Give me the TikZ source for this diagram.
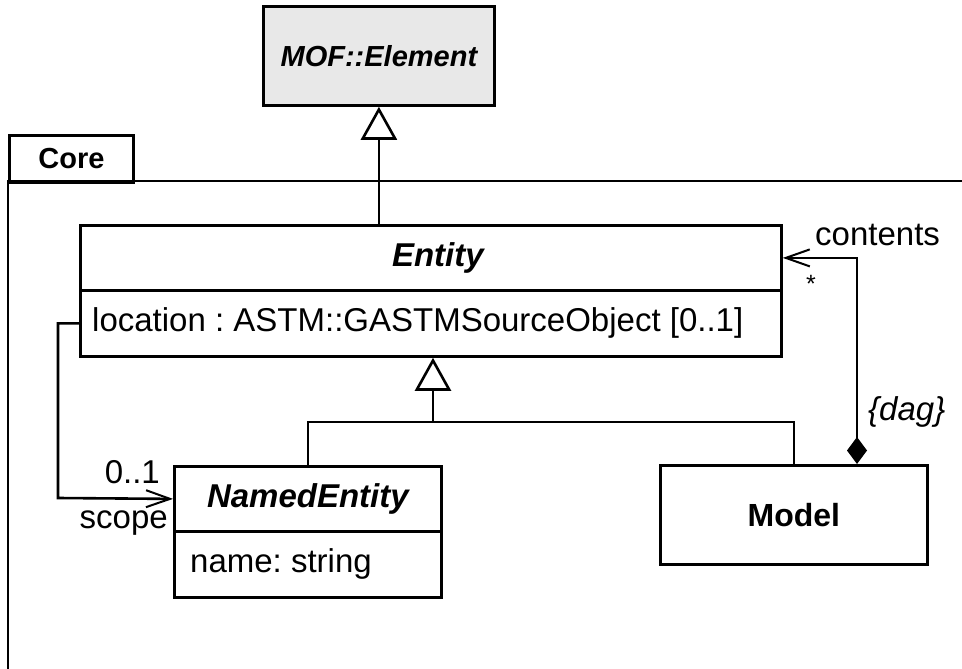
\documentclass[tikz,border=0pt]{standalone}
\usepackage{fontspec}
\setmainfont{Liberation Sans}
\usetikzlibrary{arrows.meta}
\frenchspacing
\newcommand\clsf{\fontsize{33}{40}\selectfont\bfseries\itshape}
\newcommand\txtf{\fontsize{33}{40}\selectfont}
\tikzset{
  cls/.style={draw, line width=2.8pt, inner sep=0pt, anchor=north west, font=\clsf},
  attrtext/.style={inner sep=0pt, anchor=west, font=\txtf},
  lbl/.style={inner sep=0pt, font=\txtf},
  conn/.style={line width=2.6pt},
  gen/.style={conn, -{Triangle[open, length=33pt, width=36pt, line width=2.6pt]}},
  nav/.style={conn, -{Straight Barb[length=24pt, width=17pt, line width=2pt]}},
  comp/.style={conn, {Diamond[length=27pt, width=20pt]}-{Straight Barb[length=24pt, width=17pt, line width=2pt]}},
}
\begin{document}
\frenchspacing
\begin{tikzpicture}[x=1pt, y=-1pt]
\useasboundingbox (0,0) rectangle (962,669);
% package
\draw[line width=2.8pt] (8,690) -- (8,181) -- (975,181);
\node[cls, font=\fontsize{29}{34}\selectfont\bfseries, minimum width=124pt, minimum height=47pt] (coretab) at (8,134) {Core};
% classes
\node[cls, fill=black!9, minimum width=231pt, minimum height=99pt, font=\fontsize{29}{34}\selectfont\bfseries\itshape] (mof) at (262,5) {MOF::Element};
\node[cls, minimum width=701pt, minimum height=65pt] (entityhead) at (79,224) {\hspace*{14pt}Entity};
\node[cls, minimum width=701pt, minimum height=66pt] (entityattr) at (79,289) {};
\node[attrtext] (loctext) at ([xshift=13pt]entityattr.west) {location : ASTM::GASTMSourceObject [0..1]};
\node[cls, minimum width=267pt, minimum height=65pt] (namedhead) at (173,465) {NamedEntity};
\node[cls, minimum width=267pt, minimum height=66pt] (namedattr) at (173,530) {};
\node[attrtext] (nametext) at ([xshift=17pt]namedattr.west) {name: string};
\node[cls, font=\fontsize{32}{38}\selectfont\bfseries, minimum width=267pt, minimum height=99pt] (model) at (659,464) {Model};
% coordinates
\coordinate (j) at (433,422);
\coordinate (sbend) at (58,498);
\coordinate (cbend) at (857,256);
% generalizations
\draw[gen] (mof.south |- entityhead.north) -- (mof.south);
\draw[gen] (j) -- (j |- entityattr.south);
\draw[conn] (namedhead.north) |- (j) -| (model.north);
% scope association
\draw[nav] (entityattr.west) -| (sbend) -- (namedhead.west);
\node[lbl, anchor=base east] (mult01) at (160,483) {0..1};
\node[lbl, anchor=base east] (scopelbl) at (168,528) {scope};
% contents composition
\draw[comp] (model.north -| cbend) |- (entityhead.east);
\node[lbl, anchor=base west] (contentslbl) at (815,245) {contents};
\node[lbl, anchor=base, font=\fontsize{25}{30}\selectfont] (starlbl) at (811,292) {*};
\node[lbl, anchor=base west, font=\txtf\itshape] (daglbl) at (868,420) {\{dag\}};
\end{tikzpicture}
\end{document}
